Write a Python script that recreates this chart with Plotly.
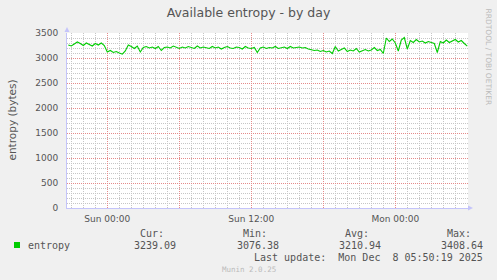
import plotly.graph_objects as go
import pandas as pd

# ---- data ----
start_time = "2025-12-06 20:45"
step = "15min"
entropy_values = [
    3260, 3240, 3280, 3320, 3290, 3250, 3300, 3270, 3240, 3290, 3260, 3300, 3250,
    3120, 3150, 3110, 3130, 3100, 3076.38, 3140, 3260,
    3230, 3190, 3240, 3120, 3210, 3230, 3200, 3220, 3190, 3230, 3150, 3210, 3220,
    3200, 3240, 3210, 3190, 3220, 3200, 3230, 3210, 3190, 3240, 3200, 3220, 3210,
    3190, 3230, 3200, 3220, 3180, 3210, 3230, 3200, 3190, 3220, 3210, 3180, 3230,
    3200, 3190, 3210, 3110, 3200, 3220, 3190, 3210, 3200, 3230, 3190, 3210, 3220,
    3190, 3230, 3200, 3210, 3220,
    3200, 3210, 3180, 3170, 3150, 3160, 3130, 3150, 3120, 3140, 3090,
    3230, 3140, 3170, 3200, 3130, 3160, 3140, 3190, 3120, 3150, 3170, 3140, 3160,
    3210, 3150, 3170, 3090,
    3400, 3330, 3380, 3300, 3140, 3360, 3408.64, 3180, 3350, 3310, 3370, 3320,
    3340, 3300, 3330, 3310, 3290, 3110, 3330, 3300, 3360, 3310, 3340, 3370, 3320,
    3350, 3290, 3239.09,
]
series_name = "entropy"
stat_labels = ["Cur:", "Min:", "Avg:", "Max:"]
stat_values = [3239.09, 3076.38, 3210.94, 3408.64]
x_range = ["2025-12-06 20:38:30", "2025-12-08 06:03:30"]
x_major_ticks = ["2025-12-07 00:00", "2025-12-07 06:00", "2025-12-07 12:00",
                 "2025-12-07 18:00", "2025-12-08 00:00", "2025-12-08 06:00"]
x_major_labels = ["Sun 00:00", "", "Sun 12:00", "", "Mon 00:00", ""]
y_ticks = [0, 500, 1000, 1500, 2000, 2500, 3000, 3500]
title_text = "Available entropy - by day"
y_title = "entropy (bytes)"
last_update = "Last update:  Mon Dec  8 05:50:19 2025"
footer = "Munin 2.0.25"
side_text = "RRDTOOL / TOBI OETIKER"

times = pd.date_range(start_time, periods=len(entropy_values), freq=step)

# ---- geometry ----
W_FIG, H_FIG = 497, 280
L, R, T, B = 67, 468, 33, 208
PW, PH = R - L, B - T

def fx(px):
    return (px - L) / PW

def fy(py):
    return (B - py) / PH

TXT = "#555555"
LIGHT = "#bbbbbb"
GREEN = "#00cc00"
MAJOR = "#e58a8a"
MINOR = "#c6c6c6"
AXIS = "#c4c4fa"
MONO = "DejaVu Sans Mono"
SANS = "DejaVu Sans"

fig = go.Figure()
fig.add_trace(go.Scatter(x=times, y=entropy_values, mode="lines",
                         line=dict(color=GREEN, width=1.1), name=series_name,
                         showlegend=False, hoverinfo="skip"))

fig.update_layout(
    width=W_FIG, height=H_FIG,
    margin=dict(l=L, r=W_FIG - R, t=T, b=H_FIG - B, pad=0),
    paper_bgcolor="#f0f0f0", plot_bgcolor="#ffffff",
    title=dict(text=title_text, x=0.5, xanchor="center", xref="container",
               y=1 - 13 / H_FIG, yref="container", yanchor="middle",
               font=dict(family=SANS, size=12.5, color=TXT)),
    showlegend=False,
)

fig.update_xaxes(
    type="date", range=x_range,
    tickmode="array", tickvals=x_major_ticks, ticktext=x_major_labels,
    showgrid=True, gridcolor=MAJOR, griddash="1px,1px", gridwidth=1,
    minor=dict(tickmode="linear", dtick=3600000, tick0="2025-12-07 00:00",
               showgrid=True, gridcolor=MINOR, griddash="1px,1px", gridwidth=1),
    showline=True, linecolor=AXIS, linewidth=1,
    ticks="", ticklabelstandoff=2, tickfont=dict(family=SANS, size=9, color=TXT),
    zeroline=False, fixedrange=True,
)
fig.update_yaxes(
    range=[0, 3500], tickmode="array", tickvals=y_ticks,
    ticktext=[str(v) for v in y_ticks],
    showgrid=True, gridcolor=MAJOR, griddash="1px,1px", gridwidth=1,
    minor=dict(tickmode="linear", dtick=100, tick0=0,
               showgrid=True, gridcolor=MINOR, griddash="1px,1px", gridwidth=1),
    showline=True, linecolor=AXIS, linewidth=1,
    ticks="", ticklabelstandoff=6,
    tickfont=dict(family=SANS, size=9, color=TXT),
    zeroline=False, fixedrange=True,
)

# axis arrows
fig.add_shape(type="path", xref="paper", yref="paper", line=dict(width=0),
              fillcolor=AXIS,
              path=f"M {fx(468)} {fy(205.5)} L {fx(473)} {fy(208)} L {fx(468)} {fy(210.5)} Z")
fig.add_shape(type="path", xref="paper", yref="paper", line=dict(width=0),
              fillcolor=AXIS,
              path=f"M {fx(64.5)} {fy(32)} L {fx(67)} {fy(27)} L {fx(69.5)} {fy(32)} Z")

# legend square
fig.add_shape(type="rect", xref="paper", yref="paper", line=dict(width=0),
              fillcolor=GREEN, x0=fx(14), x1=fx(20), y0=fy(242), y1=fy(248))

def ann(text, px, py, xanchor="left", size=10, color=TXT, family=MONO, angle=0):
    fig.add_annotation(text=text.replace(" ", "\u00a0"), x=fx(px), y=fy(py),
                       xref="paper", yref="paper", showarrow=False,
                       xanchor=xanchor, yanchor="middle", borderpad=0,
                       textangle=angle,
                       font=dict(family=family, size=size, color=color))

ann(y_title, 11, 120.5, xanchor="center", size=10.5, family=SANS, angle=-90)
ann(side_text, 488.5, 57, xanchor="center", size=7.5, color=LIGHT, family=SANS, angle=90)
ann(series_name, 26.5, 245.7)

value_right = [176.5, 279.5, 381.5, 483.5]
for lab, val, xr in zip(stat_labels, stat_values, value_right):
    ann(lab, xr - 12, 233.7, xanchor="right")
    ann(f"{val:.2f}", xr, 245.7, xanchor="right")

ann(last_update, 483.5, 257.3, xanchor="right")
ann(footer, 249, 269, xanchor="center", size=7.5, color=LIGHT)

fig.write_html("out.html")
